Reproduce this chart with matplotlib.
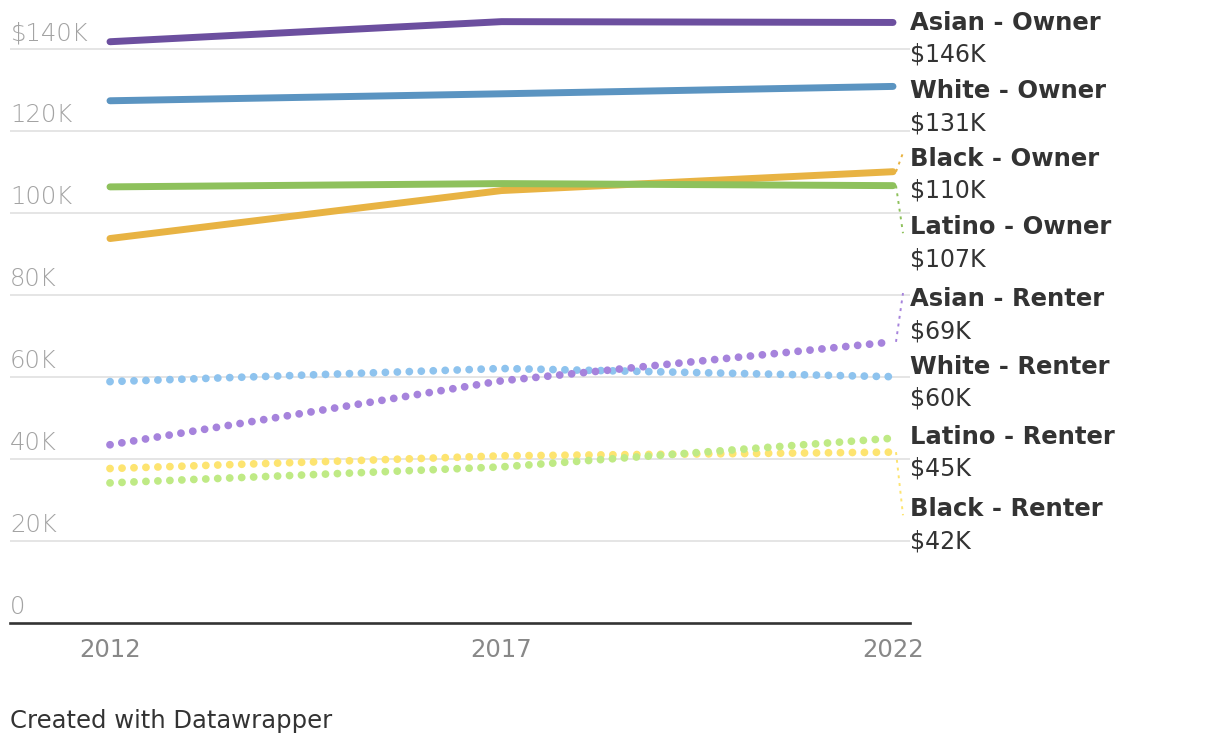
import matplotlib

matplotlib.use("Agg")
import matplotlib.pyplot as plt
import matplotlib.transforms as mtransforms

# median household income by race/ethnicity and tenure ($K)
years = [2012, 2017, 2022]
series = ["Asian - Owner", "White - Owner", "Black - Owner", "Latino - Owner",
          "Asian - Renter", "White - Renter", "Latino - Renter", "Black - Renter"]
asian_owner = [141.7, 146.6, 146.4]
white_owner = [127.3, 129.0, 130.8]
black_owner = [93.7, 105.4, 110.0]
latino_owner = [106.3, 107.1, 106.6]
asian_renter = [43.4, 59.0, 68.5]
white_renter = [58.8, 62.0, 60.0]
latino_renter = [34.1, 38.0, 45.0]
black_renter = [37.6, 40.7, 41.6]
end_labels = ["$146K", "$131K", "$110K", "$107K", "$69K", "$60K", "$45K", "$42K"]
yticks = [0, 20, 40, 60, 80, 100, 120, 140]
ytick_labels = ["0", "20K", "40K", "60K", "80K", "100K", "120K", "$140K"]

values = [asian_owner, white_owner, black_owner, latino_owner,
          asian_renter, white_renter, latino_renter, black_renter]
colors = ["#6c4f9f", "#5b94c1", "#e8b343", "#8ec15c",
          "#a683dc", "#8ec3ee", "#bfea85", "#fde470"]
owner = [True, True, True, True, False, False, False, False]
# where the label block sits (data units), after de-overlapping
label_y = [146.3, 129.6, 113.1, 96.5, 78.9, 62.4, 45.3, 27.7]
# drawing order: bottom first
order = [7, 6, 5, 4, 2, 3, 1, 0]

W, H, DPI = 1220, 746, 100
fig = plt.figure(figsize=(W / DPI, H / DPI), dpi=DPI)
px_x = lambda p: p / W
px_y = lambda p: 1 - p / H
x0, x1, ytop, ybot = 10, 910, 0, 622.7
ax = fig.add_axes([px_x(x0), px_y(ybot), px_x(x1 - x0), px_y(ytop) - px_y(ybot)])
kpp = 20 / 82.0  # K per pixel
ax.set_ylim(0, (ybot - ytop) * kpp)
ypx = 78.3
ax.set_xlim(2012 - (110 - x0) / ypx, 2022 + (x1 - 893) / ypx)
ax.axis("off")

for v in yticks[1:]:
    ax.axhline(v, color="#e3e3e3", lw=1.3, zorder=0)
ax.axhline(0, color="#333333", lw=1.9, zorder=5, clip_on=False)

for i in order:
    if owner[i]:
        ax.plot(years, values[i], color=colors[i], lw=5.0, solid_capstyle="round",
                clip_on=False, zorder=3)
    else:
        ax.plot(years, values[i], color=colors[i], lw=5.6, linestyle=(0, (0.01, 1.53)),
                dash_capstyle="round", clip_on=False, zorder=2)

fnt = "DejaVu Sans"
tr = mtransforms.blended_transform_factory(ax.transAxes, ax.transData)
for v, s in zip(yticks, ytick_labels):
    ax.text(0, v + 2.1, s, transform=tr, ha="left", va="baseline", fontsize=17.5,
            color="#a3a3a3", family=fnt, fontweight="light")
for yr in years:
    fig.text(px_x(110 + (893 - 110) * (yr - 2012) / 10), px_y(650), str(yr),
             ha="center", va="center", fontsize=17.5, color="#888888", family=fnt)

lx = 2022 + (910 - 893) / ypx
cx = 2022 + (903 - 893) / ypx
for i, name in enumerate(series):
    end = values[i][-1]
    ly = label_y[i]
    if abs(ly - end) > 3:
        ax.plot([2022 + 3 / ypx, cx], [end, ly + (1.5 if ly > end else -1.5)],
                color=colors[i], lw=1.4, ls=(0, (1.5, 2.5)), clip_on=False, zorder=1)
    ax.text(lx, ly, name, ha="left", va="center", fontsize=17.5, fontweight="bold",
            color="#333333", family=fnt, clip_on=False)
    ax.text(lx, ly - 32 * kpp, end_labels[i], ha="left", va="center", fontsize=17,
            color="#333333", family=fnt, clip_on=False)

fig.text(px_x(10), px_y(721), "Created with Datawrapper", ha="left", va="center",
         fontsize=17.5, color="#333333", family=fnt)

fig.savefig("out.png", dpi=DPI, facecolor="white")
